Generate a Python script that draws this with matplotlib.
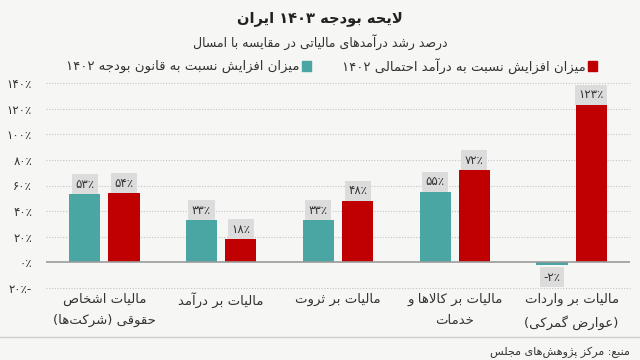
import matplotlib
matplotlib.use("Agg")
import matplotlib.pyplot as plt
from matplotlib.patches import Rectangle
from matplotlib.lines import Line2D
import numpy as np

# ---------------- data ----------------
categories = [
    "مالیات اشخاص\nحقوقی (شرکت‌ها)",
    "مالیات بر درآمد",
    "مالیات بر ثروت",
    "مالیات بر کالاها و\nخدمات",
    "مالیات بر واردات\n(عوارض گمرکی)",
]
vs_budget_law = [53, 33, 33, 55, -2]        # teal
vs_probable_revenue = [54, 18, 48, 72, 123]  # red
series_names = [
    "میزان افزایش نسبت به قانون بودجه ۱۴۰۲",
    "میزان افزایش نسبت به درآمد احتمالی ۱۴۰۲",
]
y_ticks = [-20, 0, 20, 40, 60, 80, 100, 120, 140]
title = "لایحه بودجه ۱۴۰۳ ایران"
subtitle = "درصد رشد درآمدهای مالیاتی در مقایسه با امسال"
source = "منبع: مرکز پژوهش‌های مجلس"

# ---------------- minimal Persian shaping + bidi ----------------
FORMS = {
    'ا': ('\uFE8D', '\uFE8E'), 'آ': ('\uFE81', '\uFE82'),
    'ب': ('\uFE8F', '\uFE90', '\uFE91', '\uFE92'),
    'پ': ('\uFB56', '\uFB57', '\uFB58', '\uFB59'),
    'ت': ('\uFE95', '\uFE96', '\uFE97', '\uFE98'),
    'ث': ('\uFE99', '\uFE9A', '\uFE9B', '\uFE9C'),
    'ج': ('\uFE9D', '\uFE9E', '\uFE9F', '\uFEA0'),
    'ح': ('\uFEA1', '\uFEA2', '\uFEA3', '\uFEA4'),
    'خ': ('\uFEA5', '\uFEA6', '\uFEA7', '\uFEA8'),
    'د': ('\uFEA9', '\uFEAA'), 'ذ': ('\uFEAB', '\uFEAC'),
    'ر': ('\uFEAD', '\uFEAE'), 'ز': ('\uFEAF', '\uFEB0'),
    'ژ': ('\uFB8A', '\uFB8B'),
    'س': ('\uFEB1', '\uFEB2', '\uFEB3', '\uFEB4'),
    'ش': ('\uFEB5', '\uFEB6', '\uFEB7', '\uFEB8'),
    'ص': ('\uFEB9', '\uFEBA', '\uFEBB', '\uFEBC'),
    'ض': ('\uFEBD', '\uFEBE', '\uFEBF', '\uFEC0'),
    'ط': ('\uFEC1', '\uFEC2', '\uFEC3', '\uFEC4'),
    'ظ': ('\uFEC5', '\uFEC6', '\uFEC7', '\uFEC8'),
    'ع': ('\uFEC9', '\uFECA', '\uFECB', '\uFECC'),
    'غ': ('\uFECD', '\uFECE', '\uFECF', '\uFED0'),
    'ف': ('\uFED1', '\uFED2', '\uFED3', '\uFED4'),
    'ق': ('\uFED5', '\uFED6', '\uFED7', '\uFED8'),
    'ک': ('\uFB8E', '\uFB8F', '\uFB90', '\uFB91'),
    'گ': ('\uFB92', '\uFB93', '\uFB94', '\uFB95'),
    'ل': ('\uFEDD', '\uFEDE', '\uFEDF', '\uFEE0'),
    'م': ('\uFEE1', '\uFEE2', '\uFEE3', '\uFEE4'),
    'ن': ('\uFEE5', '\uFEE6', '\uFEE7', '\uFEE8'),
    'ه': ('\uFEE9', '\uFEEA', '\uFEEB', '\uFEEC'),
    'و': ('\uFEED', '\uFEEE'),
    'ی': ('\uFBFC', '\uFBFD', '\uFBFE', '\uFBFF'),
}
LAMALEF = {'ا': ('\uFEFB', '\uFEFC'), 'آ': ('\uFEF5', '\uFEF6')}
DIGITS = set('0123456789۰۱۲۳۴۵۶۷۸۹')


def _dual(c):
    return c in FORMS and len(FORMS[c]) == 4


def shape_line(s):
    out = []
    i, n = 0, len(s)
    while i < n:
        c = s[i]
        if c not in FORMS:
            if c != '\u200c':
                out.append(c)
            i += 1
            continue
        prev = s[i - 1] if i > 0 else None
        jp = prev is not None and _dual(prev)
        if c == 'ل' and i + 1 < n and s[i + 1] in LAMALEF:
            out.append(LAMALEF[s[i + 1]][1 if jp else 0])
            i += 2
            continue
        nxt = s[i + 1] if i + 1 < n else None
        jn = _dual(c) and nxt in FORMS
        f = FORMS[c]
        if jp and jn:
            g = f[3]
        elif jp:
            g = f[1]
        elif jn:
            g = f[2]
        else:
            g = f[0]
        out.append(g)
        i += 1
    vis = out[::-1]
    mirror = {'(': ')', ')': '('}
    vis = [mirror.get(ch, ch) for ch in vis]
    res, run = [], []
    for ch in vis:
        if ch in DIGITS:
            run.append(ch)
        else:
            if run:
                res.extend(run[::-1]); run = []
            res.append(ch)
    if run:
        res.extend(run[::-1])
    return ''.join(res)


def fa(s):
    return '\n'.join(shape_line(l) for l in s.split('\n'))


def fa_num(v):
    return str(abs(int(v))).translate(str.maketrans('0123456789', '۰۱۲۳۴۵۶۷۸۹'))


# ---------------- figure ----------------
plt.rcParams['font.family'] = ['DejaVu Sans']
BG = '#f6f6f4'
TEAL = '#4aa6a2'
RED = '#c00000'
TXT = '#333333'

fig = plt.figure(figsize=(6.4, 3.6), dpi=100, facecolor=BG)
ax = fig.add_axes([46 / 640, 1 - 288 / 360, 584 / 640, 205 / 360])
ax.set_facecolor(BG)

x = np.arange(len(categories))
w = 0.266
off = 0.168
ax.bar(x - off, vs_budget_law, width=w, color=TEAL, zorder=3)
ax.bar(x + off, vs_probable_revenue, width=w, color=RED, zorder=3)

ax.set_xlim(-0.5, len(categories) - 0.5)
ax.set_ylim(y_ticks[0], y_ticks[-1])
for s in ax.spines.values():
    s.set_visible(False)
for t in y_ticks:
    if t == 0:
        ax.axhline(0, color='#9a9a9a', lw=1.2, zorder=4)
    else:
        ax.axhline(t, color='#c4c4c4', lw=0.8, ls=(0, (1, 1.5)), zorder=1, clip_on=False)

ax.set_yticks(y_ticks)
ylabels = []
for t in y_ticks:
    if t < 0:
        ylabels.append(fa_num(t) + '٪-')
    else:
        ylabels.append(fa_num(t) + '٪')
ax.set_yticklabels(ylabels, fontsize=8.5, color=TXT)
ax.tick_params(axis='y', length=0, pad=10)
ax.set_xticks([])

# value labels
LFS = 8.5
PAD = 0.3
box = dict(boxstyle='square,pad=%g' % PAD, fc='#dcdcdc', ec='none')
for xs, vals in ((x - off, vs_budget_law), (x + off, vs_probable_revenue)):
    for xi, v in zip(xs, vals):
        if v >= 0:
            ax.annotate(fa_num(v) + '٪', (xi, v), xytext=(0, LFS * PAD), textcoords='offset points',
                        ha='center', va='bottom', fontsize=LFS, color=TXT, bbox=box,
                        zorder=5, annotation_clip=False)
        else:
            ax.annotate('-' + fa_num(v) + '٪', (xi, v), xytext=(0, -LFS * PAD - 1.5),
                        textcoords='offset points',
                        ha='center', va='top', fontsize=LFS, color=TXT, bbox=box,
                        zorder=5, annotation_clip=False)

# category labels
for xi, c in zip(x, categories):
    ax.text(xi, -23.5, fa(c), ha='center', va='top', fontsize=9.5, color=TXT,
            linespacing=1.8, clip_on=False)

# title, subtitle
fig.text(0.5, 1 - 18 / 360, fa(title), ha='center', va='center', fontsize=10.5,
         fontweight='bold', color='#222222')
fig.text(0.5, 1 - 42 / 360, fa(subtitle), ha='center', va='center', fontsize=9, color=TXT)

# legend
ly = 1 - 66 / 360
sq = 9
for (sx, name, col) in ((302, series_names[0], TEAL), (588, series_names[1], RED)):
    fig.patches.append(Rectangle((sx / 640, ly - sq / 2 / 360), sq / 640, sq / 360,
                                 transform=fig.transFigure, color=col))
    fig.text((sx - 2) / 640, ly, fa(name), ha='right', va='center', fontsize=9.5, color=TXT)

# separator and source
fig.lines.append(Line2D([0, 1], [1 - 337 / 360] * 2, transform=fig.transFigure,
                        color='#cfcfcf', lw=1))
fig.text(630 / 640, 1 - 352 / 360, fa(source), ha='right', va='center', fontsize=8, color=TXT)

fig.savefig('out.png', dpi=100, facecolor=BG)
